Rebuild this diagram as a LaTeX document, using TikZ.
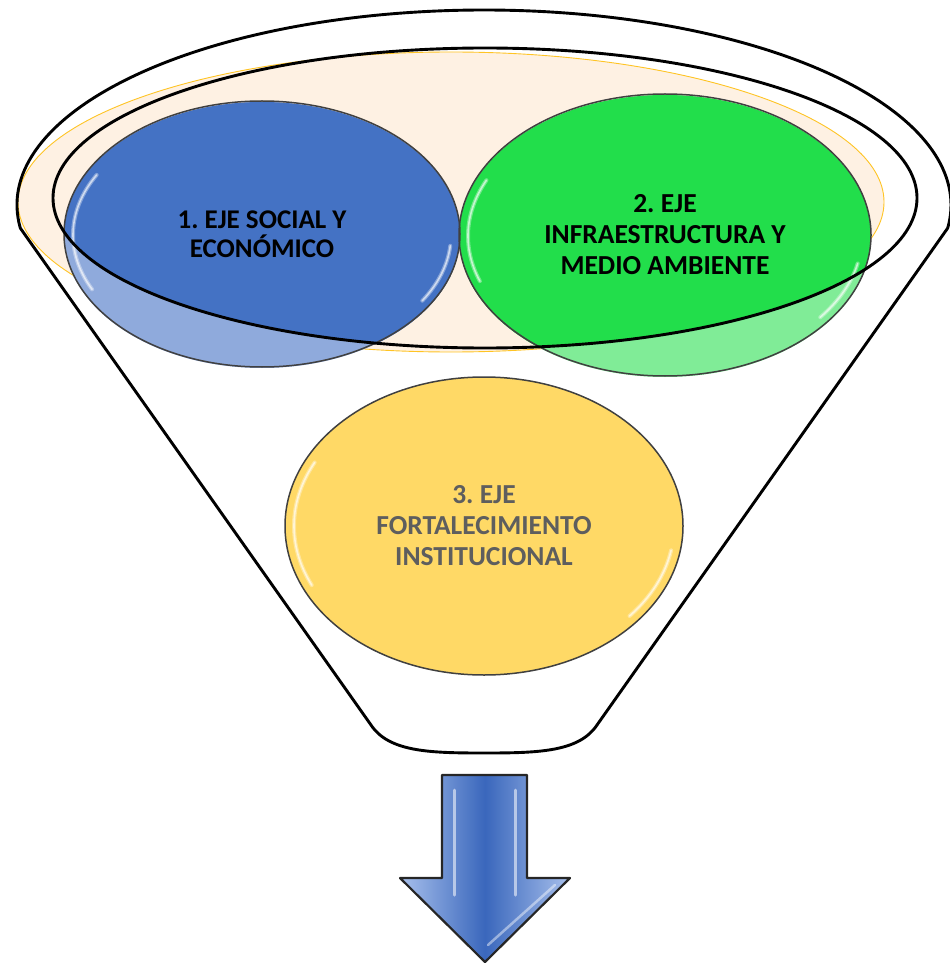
\documentclass[tikz,border=0pt]{standalone}
\usepackage{fontspec}
\setmainfont{Carlito}
\usetikzlibrary{shapes.geometric}
\definecolor{bluedk}{HTML}{4472C4}
\definecolor{bluelt}{HTML}{8FAADC}
\definecolor{greendk}{HTML}{22DE4B}
\definecolor{greenlt}{HTML}{80EC97}
\definecolor{yel}{HTML}{FFD966}
\definecolor{peach}{HTML}{FEF1E3}
\definecolor{peachline}{HTML}{FFC424}
\definecolor{txtgray}{HTML}{5E5E5E}
\definecolor{rimgray}{HTML}{404040}
\definecolor{arrowdk}{HTML}{3A67BC}
\definecolor{arrowlt}{HTML}{A8C0EC}
\frenchspacing
\begin{document}
\begin{tikzpicture}[x=1pt,y=-1pt,
  axisnode/.style={ellipse, inner sep=0pt, draw=rimgray, line width=1.5pt,
    font=\fontsize{27}{30.5}\selectfont\bfseries, align=center},
  rim/.style={draw=black, line width=2.9pt, line join=round},
  gloss/.style={white, line width=4pt, opacity=0.35, line cap=round},
  glosscore/.style={white, line width=1.6pt, opacity=0.6, line cap=round}]
\path[use as bounding box] (0,0) rectangle (949,965);
% rim interior (peach)
\filldraw[fill=peach, draw=peachline, line width=0.9pt] (451,202) ellipse [x radius=433, y radius=150];
% circle fills: lighter outside the rim, full colour inside
\fill[bluelt] (262,235) ellipse [x radius=198, y radius=133];
\fill[greenlt] (665,236) ellipse [x radius=206, y radius=141];
\begin{scope}
  \clip (485,198) ellipse [x radius=432, y radius=150];
  \fill[bluedk] (262,235) ellipse [x radius=198, y radius=133];
  \fill[greendk] (665,236) ellipse [x radius=206, y radius=141];
\end{scope}
% gloss highlights
\foreach \s in {gloss,glosscore}{
\draw[\s] (262,235) ++(154:189 and 124) arc[start angle=154, end angle=209, x radius=189, y radius=124];
\draw[\s] (262,235) ++(5:189 and 124) arc[start angle=5, end angle=32, x radius=189, y radius=124];
\draw[\s] (665,236) ++(160:197 and 132) arc[start angle=160, end angle=205, x radius=197, y radius=132];
\draw[\s] (665,236) ++(12:197 and 132) arc[start angle=12, end angle=38, x radius=197, y radius=132];
}
% axis nodes 1 and 2
\node[axisnode, minimum width=396, minimum height=266, font=\fontsize{27}{29.5}\selectfont\bfseries] (eje1) at (262,234) {1. EJE SOCIAL Y\\ECONÓMICO};
\node[axisnode, minimum width=412, minimum height=282, font=\fontsize{27.5}{31}\selectfont\bfseries] (eje2) at (665,235) {2. EJE\\INFRAESTRUCTURA Y\\MEDIO AMBIENTE};
% funnel rim and body
\draw[rim] (485,198) ellipse [x radius=432, y radius=150];
\draw[rim] (484,205) ++(173.2:467 and 195)
  arc[start angle=173.2, end angle=366.8, x radius=467, y radius=195]
  -- (597,725) .. controls (579,752) and (538,753) .. (484,753)
  .. controls (430,753) and (389,752) .. (371,725) -- cycle;
% axis 3
\node[axisnode, fill=yel, text=txtgray, minimum width=398, minimum height=298, font=\fontsize{27.5}{31}\selectfont\bfseries] (eje3) at (484,526) {3. EJE\\FORTALECIMIENTO\\INSTITUCIONAL};
\foreach \s in {gloss,glosscore}{
\draw[\s] (484,526) ++(155:190 and 140) arc[start angle=155, end angle=207, x radius=190, y radius=140];
\draw[\s] (484,526) ++(10:190 and 140) arc[start angle=10, end angle=40, x radius=190, y radius=140];
}
% arrow
\shade[left color=arrowlt, right color=arrowlt, middle color=arrowdk]
  (442,775) -- (527,775) -- (527,878) -- (570,878) -- (485,962) -- (400,878) -- (442,878) -- cycle;
\draw[white, opacity=0.55, line width=3pt, line cap=round] (454,790) -- (454,895);
\draw[white, opacity=0.55, line width=3pt, line cap=round] (515,790) -- (515,895);
\draw[white, opacity=0.45, line width=2.5pt, line cap=round] (488,945) -- (555,885);
\draw[black!85, line width=2.2pt, line join=round]
  (442,775) -- (527,775) -- (527,878) -- (570,878) -- (485,962) -- (400,878) -- (442,878) -- cycle;
\end{tikzpicture}
\end{document}
